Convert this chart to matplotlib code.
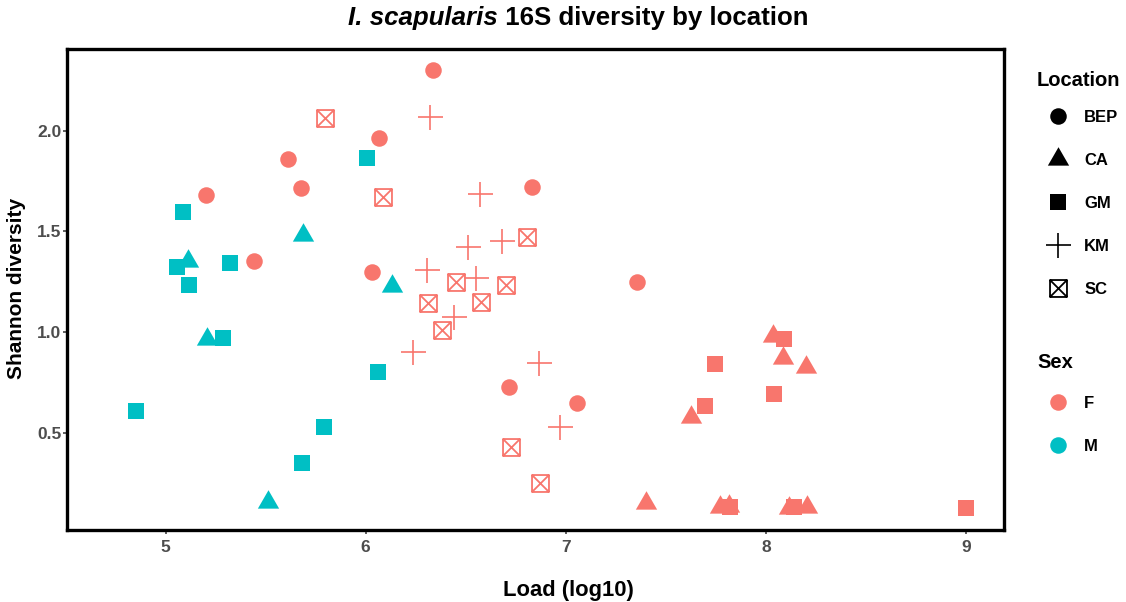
import numpy as np
import matplotlib.pyplot as plt
from matplotlib.lines import Line2D
from matplotlib.path import Path

plt.rcParams['font.family'] = ['Liberation Sans', 'DejaVu Sans']

# data: load (log10), Shannon diversity, location, sex
load = [6.339, 6.069, 5.611, 5.679, 5.203, 6.833, 5.444, 6.034, 7.358, 6.718, 7.058,
        5.111, 5.209, 5.688, 6.133, 5.513,
        8.036, 8.086, 8.201, 7.626, 7.401, 7.773, 7.814, 8.116, 8.206,
        5.089, 5.056, 5.324, 5.119, 5.289, 4.854, 5.794, 5.684, 6.064, 6.009,
        8.089, 7.744, 8.039, 7.694, 7.819, 8.139, 8.998,
        6.321, 6.569, 6.511, 6.681, 6.306, 6.551, 6.443, 6.239, 6.866, 6.970,
        5.796, 6.086, 6.808, 6.453, 6.699, 6.314, 6.574, 6.381, 6.724, 6.871]
shannon = [2.301, 1.964, 1.860, 1.717, 1.681, 1.719, 1.355, 1.299, 1.249, 0.728, 0.649,
           1.355, 0.966, 1.482, 1.229, 0.159,
           0.980, 0.872, 0.829, 0.578, 0.152, 0.131, 0.136, 0.126, 0.131,
           1.598, 1.325, 1.342, 1.233, 0.970, 0.607, 0.528, 0.349, 0.801, 1.863,
           0.965, 0.841, 0.692, 0.632, 0.134, 0.134, 0.126,
           2.069, 1.686, 1.424, 1.453, 1.309, 1.267, 1.074, 0.902, 0.849, 0.528,
           2.062, 1.672, 1.474, 1.251, 1.234, 1.146, 1.150, 1.011, 0.429, 0.250]
location = (['BEP'] * 11 + ['CA'] * 14 + ['GM'] * 17 + ['KM'] * 10 + ['SC'] * 10)
sex = (['F'] * 11 + ['M'] * 5 + ['F'] * 9 + ['M'] * 10 + ['F'] * 7 + ['F'] * 10 + ['F'] * 10)

locations = ['BEP', 'CA', 'GM', 'KM', 'SC']
sexes = ['F', 'M']
sex_colors = {'F': '#F8766D', 'M': '#00BFC4'}

# ggplot-like shapes: triangle centred on its centroid, box with a cross
tri = Path([(0, 1), (-0.866, -0.5), (0.866, -0.5), (0, 1)],
           [Path.MOVETO, Path.LINETO, Path.LINETO, Path.CLOSEPOLY])
boxx = Path([(-1, -1), (1, -1), (1, 1), (-1, 1), (-1, -1), (-1, -1), (1, 1), (-1, 1), (1, -1)],
            [Path.MOVETO, Path.LINETO, Path.LINETO, Path.LINETO, Path.CLOSEPOLY,
             Path.MOVETO, Path.LINETO, Path.MOVETO, Path.LINETO])
shape_style = {
    'BEP': dict(marker='o', markersize=11.9, markeredgewidth=0),
    'CA': dict(marker=tri, markersize=17.7, markeredgewidth=0),
    'GM': dict(marker='s', markersize=12.0, markeredgewidth=0),
    'KM': dict(marker='+', markersize=18.0, markeredgewidth=1.2),
    'SC': dict(marker=boxx, markersize=12.2, markeredgewidth=1.3, markerfacecolor='none'),
}

load = np.array(load)
shannon = np.array(shannon)
location = np.array(location)
sex = np.array(sex)

fig = plt.figure(figsize=(11.26, 6.02), dpi=100)
ax = fig.add_axes([67.3 / 1126, 1 - 530 / 602, (1004 - 67.3) / 1126, (530 - 49) / 602])

for loc in locations:
    for s in sexes:
        m = (location == loc) & (sex == s)
        if not m.any():
            continue
        st = dict(shape_style[loc])
        c = sex_colors[s]
        if st.get('markerfacecolor') != 'none':
            st['markerfacecolor'] = c
        ax.plot(load[m], shannon[m], ls='none', color=c, markeredgecolor=c, **st)

ax.set_xlim(4.509, 9.19)
ax.set_ylim(0.019, 2.405)
ax.set_xticks([5, 6, 7, 8, 9])
ax.set_yticks([0.5, 1.0, 1.5, 2.0])
ax.set_yticklabels(['0.5', '1.0', '1.5', '2.0'])
for sp in ax.spines.values():
    sp.set_linewidth(2.4)
    sp.set_color('black')
ax.tick_params(direction='out', length=2.9, width=1.1, color='#333333',
               labelsize=12.5, labelcolor='#4D4D4D')
ax.tick_params(axis='x', pad=4.5)
ax.tick_params(axis='y', pad=1.2)
for lab in ax.get_xticklabels() + ax.get_yticklabels():
    lab.set_fontweight('bold')

fig.text(568 / 1126, 1 - 596 / 602, 'Load (log10)', ha='center', va='baseline',
         fontsize=15.8, fontweight='bold')
fig.text(17 / 1126, 1 - 288 / 602, 'Shannon diversity', ha='center', va='center',
         rotation=90, fontsize=15, fontweight='bold')

# title: italic species name followed by plain bold text, centred as one line
renderer = fig.canvas.get_renderer()
t1 = fig.text(0, 1 - 25 / 602, 'I. scapularis', fontsize=18.6, fontweight='bold',
              style='italic', va='baseline')
t2 = fig.text(0, 1 - 25 / 602, ' 16S diversity by location', fontsize=18.6,
              fontweight='bold', va='baseline')
w1 = t1.get_window_extent(renderer).width
w2 = t2.get_window_extent(renderer).width
x0 = 578 - (w1 + w2) / 2
t1.set_x(x0 / 1126)
t2.set_x((x0 + w1) / 1126)

# legends
loc_handles = []
for loc in locations:
    st = dict(shape_style[loc])
    if st.get('markerfacecolor') != 'none':
        st['markerfacecolor'] = 'black'
    loc_handles.append(Line2D([], [], ls='none', color='black', markeredgecolor='black', **st))
sex_handles = [Line2D([], [], ls='none', marker='o', markersize=11.9, markeredgewidth=0,
                      color=sex_colors[s]) for s in sexes]

leg_kw = dict(loc='upper left', frameon=False, borderpad=0, fontsize=12,
              title_fontproperties={'size': 14.5, 'weight': 'bold'},
              handlelength=2.48, handletextpad=0.35, labelspacing=1.68,
              alignment='left', borderaxespad=0)
leg1 = fig.legend(loc_handles, locations, title='Location',
                  bbox_to_anchor=(1037 / 1126, 1 - 71.5 / 602), **leg_kw)
leg2 = fig.legend(sex_handles, sexes, title='Sex',
                  bbox_to_anchor=(1037 / 1126, 1 - 353.5 / 602), **leg_kw)
leg1._legend_box.sep = 14
leg2._legend_box.sep = 17
for leg in (leg1, leg2):
    for t in leg.get_texts():
        t.set_fontweight('bold')

fig.savefig('out.png', dpi=100)
